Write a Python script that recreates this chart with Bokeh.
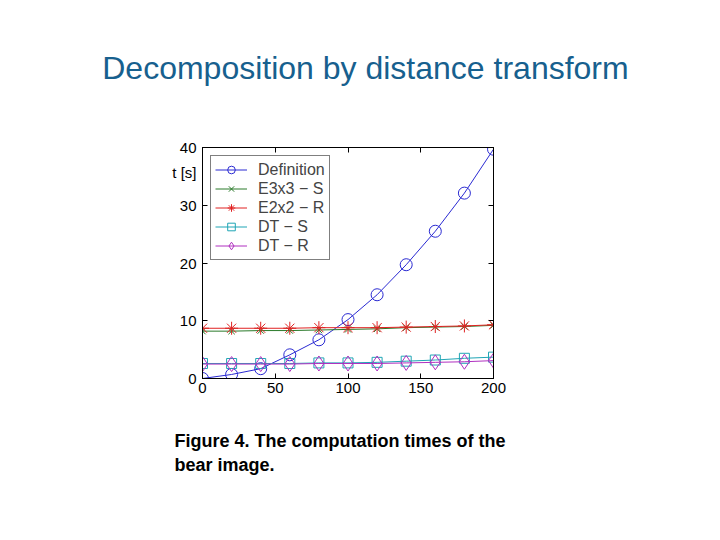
from bokeh.plotting import figure
from bokeh.models import Range1d, LinearAxis, FixedTicker, Legend, LegendItem, Title
from bokeh.embed import file_html
from bokeh.resources import INLINE

# ---- data ----
sizes = [0, 20, 40, 60, 80, 100, 120, 140, 160, 180, 200]
t_definition = [0.0, 0.7, 1.7, 4.1, 6.7, 10.2, 14.5, 19.7, 25.5, 32.1, 39.7]
t_e3x3_s = [8.2, 8.2, 8.3, 8.3, 8.4, 8.5, 8.6, 8.8, 8.9, 9.0, 9.2]
t_e2x2_r = [8.7, 8.7, 8.7, 8.7, 8.8, 8.8, 8.8, 8.9, 9.0, 9.1, 9.3]
t_dt_s = [2.6, 2.6, 2.6, 2.6, 2.7, 2.7, 2.8, 3.0, 3.2, 3.5, 3.7]
t_dt_r = [2.5, 2.5, 2.5, 2.5, 2.6, 2.6, 2.6, 2.7, 2.8, 2.9, 3.1]
series_names = ["Definition", "E3x3 \u2212 S", "E2x2 \u2212 R", "DT \u2212 S", "DT \u2212 R"]
x_ticks = [0, 50, 100, 150, 200]
y_ticks = [0, 10, 20, 30, 40]
slide_title = "Decomposition by distance transform"
title_at = 112.0
caption = "Figure 4. The computation times of the\nbear image."
y_label = "t [s]"
y_label_at = 35.6

FONT = "Liberation Sans"

p = figure(frame_width=291, frame_height=231,
           min_border_left=202, min_border_right=219,
           min_border_top=147, min_border_bottom=154,
           x_range=Range1d(0, 200), y_range=Range1d(0, 40),
           output_backend="svg", toolbar_location=None,
           background_fill_color="white", border_fill_color="white")
p.outline_line_color = "black"
p.outline_line_width = 1
p.xgrid.visible = False
p.ygrid.visible = False

def style_axis(ax, ticks, show_labels, standoff, tick_in=5):
    ax.ticker = FixedTicker(ticks=ticks)
    ax.major_tick_in = tick_in
    ax.major_tick_out = 0
    ax.minor_tick_in = 0
    ax.minor_tick_out = 0
    ax.axis_line_color = "black"
    ax.major_tick_line_color = "black"
    ax.major_label_text_font = FONT
    if show_labels:
        ax.major_label_text_font_size = "15px"
        ax.major_label_text_color = "black"
        ax.major_label_standoff = standoff
    else:
        ax.major_label_text_font_size = "0px"
        ax.major_label_text_color = None
        ax.major_label_standoff = 0

style_axis(p.xaxis[0], x_ticks, True, 4)
# left: tick-only axis next to the frame, labels on a second axis
style_axis(p.yaxis[0], y_ticks, False, 0)
lab_ax = LinearAxis()
style_axis(lab_ax, y_ticks + [y_label_at], True, 6, tick_in=0)
lab_ax.axis_line_color = None
lab_ax.major_tick_line_color = None
lab_ax.major_label_overrides = {y_label_at: y_label}
p.add_layout(lab_ax, "left")

top_ax = LinearAxis()
right_ax = LinearAxis()
style_axis(top_ax, x_ticks, False, 0)
style_axis(right_ax, y_ticks, False, 0)
p.add_layout(top_ax, "above")
p.add_layout(right_ax, "right")

# slide title, drawn as the single label of an outer top axis
title_ax = LinearAxis()
style_axis(title_ax, [title_at], True, 62, tick_in=0)
title_ax.axis_line_color = None
title_ax.major_tick_line_color = None
title_ax.major_label_text_font_size = "32px"
title_ax.major_label_text_color = "#17608e"
title_ax.major_label_overrides = {title_at: slide_title}
p.add_layout(title_ax, "above")

colors = ["#2a2ad2", "#2a7a2a", "#e02222", "#1fa5b5", "#b030c0"]
data = [t_definition, t_e3x3_s, t_e2x2_r, t_dt_s, t_dt_r]
markers = ["circle", "x", "asterisk", "square", "diamond"]
msizes = [12, 9, 13, 10, 15]

items = []
for name, ys, c, m, s in zip(series_names, data, colors, markers, msizes):
    l = p.line(sizes, ys, line_color=c, line_width=1)
    sc = p.scatter(sizes, ys, marker=m, size=s, line_color=c,
                   fill_color=None, line_width=1)
    items.append(LegendItem(label=name, renderers=[l, sc]))

legend = Legend(items=items, location="top_left")
legend.margin = 8
legend.padding = 4
legend.spacing = 0
legend.glyph_width = 32
legend.glyph_height = 19
legend.label_height = 19
legend.label_standoff = 11
legend.label_text_font = FONT
legend.label_text_font_size = "16px"
legend.border_line_color = "black"
legend.border_line_width = 1
legend.background_fill_alpha = 1
p.add_layout(legend, "center")

# caption below
p.add_layout(Title(text=caption, text_font=FONT, text_font_size="18px",
                   text_font_style="bold", text_color="black",
                   text_line_height=1.2,
                   align="left", offset=-28, standoff=67), "below")

open("out.html", "w").write(file_html(p, INLINE))
